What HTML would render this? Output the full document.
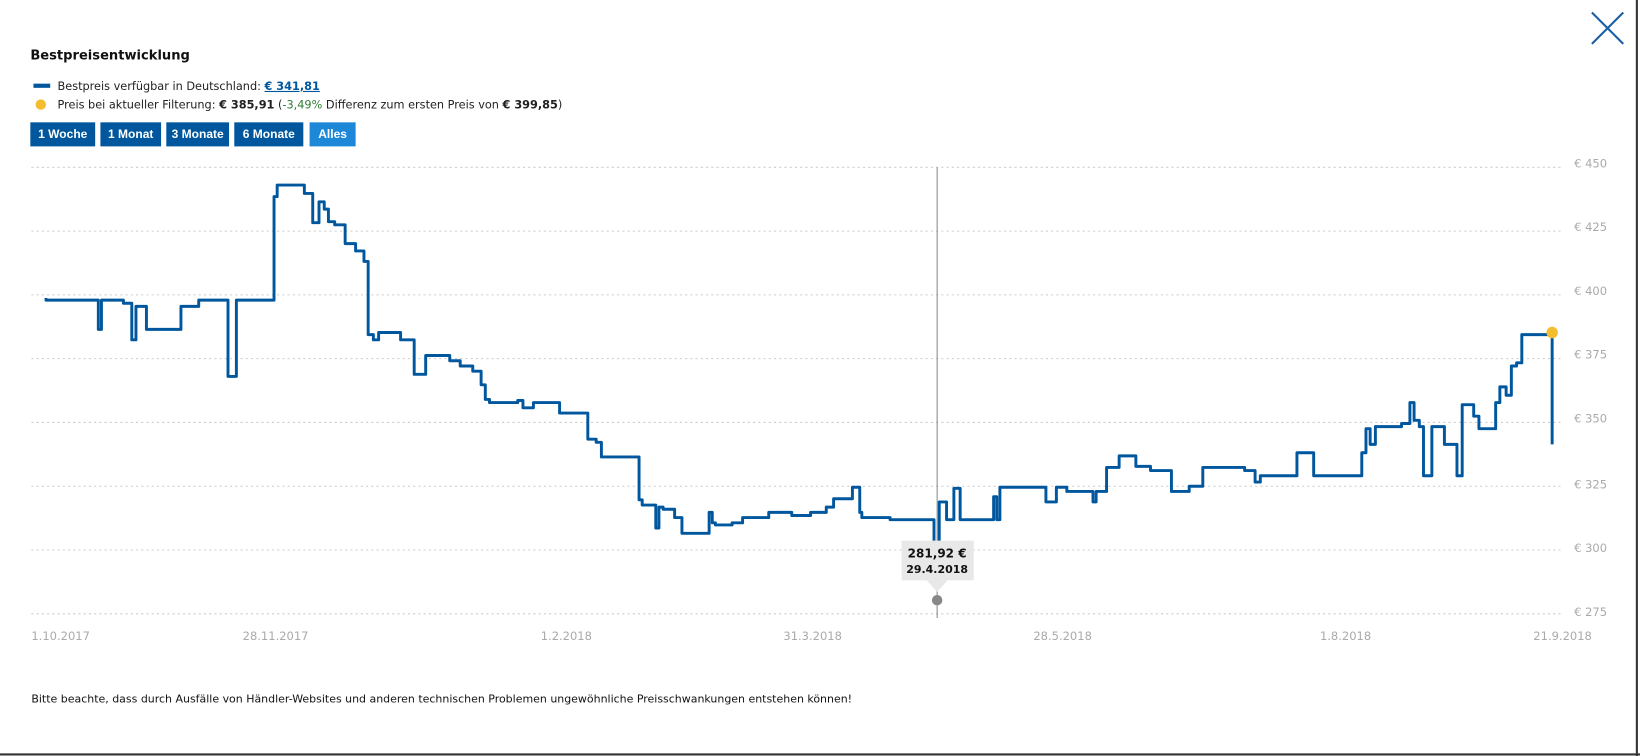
<!DOCTYPE html>
<html><head><meta charset="utf-8"><style>
html,body{margin:0;padding:0;background:#fff;width:1640px;height:756px;overflow:hidden}
svg{display:block}
text{font-family:"DejaVu Sans","Liberation Sans",sans-serif}
text.btn{font-family:"Liberation Sans",sans-serif;font-weight:bold;font-size:11.5px}
</style></head><body>
<svg width="1640" height="756" viewBox="0 0 1568 723" preserveAspectRatio="none">
<rect x="0" y="0" width="1568" height="723" fill="#fff"/>
<line x1="1565" y1="0" x2="1565" y2="723" stroke="#333" stroke-width="2"/>
<line x1="0" y1="721.5" x2="1568" y2="721.5" stroke="#333" stroke-width="2"/>
<path d="M1522 12 L1552 42 M1552 12 L1522 42" stroke="#1a5fa6" stroke-width="2" fill="none"/>
<text x="29" y="57" font-size="12.5" font-weight="bold" fill="#111">Bestpreisentwicklung</text>
<rect x="32" y="80" width="16" height="4" fill="#00579e"/>
<text x="55" y="86" font-size="10.8" fill="#222">Bestpreis verfügbar in Deutschland: <tspan fill="#00579e" font-weight="bold" text-decoration="underline">€ 341,81</tspan></text>
<circle cx="39" cy="100" r="5" fill="#f4bc2f"/>
<text x="55" y="104" font-size="10.8" fill="#222">Preis bei aktueller Filterung: <tspan font-weight="bold">€ 385,91</tspan> (<tspan fill="#2e7d32">-3,49%</tspan> Differenz zum ersten Preis von <tspan font-weight="bold">€ 399,85</tspan>)</text>
<rect x="29" y="117" width="62" height="23" fill="#00579e"/><text class="btn" x="60" y="132" text-anchor="middle" fill="#fff">1 Woche</text>
<rect x="96" y="117" width="58" height="23" fill="#00579e"/><text class="btn" x="125" y="132" text-anchor="middle" fill="#fff">1 Monat</text>
<rect x="159" y="117" width="60" height="23" fill="#00579e"/><text class="btn" x="189" y="132" text-anchor="middle" fill="#fff">3 Monate</text>
<rect x="224" y="117" width="66" height="23" fill="#00579e"/><text class="btn" x="257" y="132" text-anchor="middle" fill="#fff">6 Monate</text>
<rect x="296" y="117" width="44" height="23" fill="#1e88d8"/><text class="btn" x="318" y="132" text-anchor="middle" fill="#fff">Alles</text>
<g stroke="#ccc" stroke-dasharray="2,3" stroke-width="1">
<line x1="30" y1="160" x2="1493" y2="160"/><line x1="30" y1="221" x2="1493" y2="221"/>
<line x1="30" y1="282" x2="1493" y2="282"/><line x1="30" y1="343" x2="1493" y2="343"/>
<line x1="30" y1="404" x2="1493" y2="404"/><line x1="30" y1="465" x2="1493" y2="465"/>
<line x1="30" y1="526" x2="1493" y2="526"/><line x1="30" y1="587" x2="1493" y2="587"/>
</g>
<g font-size="11" fill="#aaa">
<text x="1505" y="160">€ 450</text><text x="1505" y="221">€ 425</text><text x="1505" y="282">€ 400</text>
<text x="1505" y="343">€ 375</text><text x="1505" y="404">€ 350</text><text x="1505" y="467">€ 325</text>
<text x="1505" y="528">€ 300</text><text x="1505" y="589">€ 275</text>
<text x="30" y="612">1.10.2017</text><text x="232" y="612">28.11.2017</text><text x="517" y="612">1.2.2018</text>
<text x="749" y="612">31.3.2018</text><text x="988" y="612">28.5.2018</text><text x="1262" y="612">1.8.2018</text><text x="1466" y="612">21.9.2018</text>
</g>
<line x1="896" y1="160" x2="896" y2="591" stroke="#888" stroke-width="1"/>
<path fill="none" stroke="#00579e" stroke-width="2.8" stroke-linejoin="round" d="M44 285 V287 H94 V315 H97 V287 H118 V290 H126 V325 H130 V293 H140 V315 H173 V293 H190 V287 H218 V360 H226 V287 H262 V188 H265 V177 H291 V185 H299 V213 H305 V193 H310 V200 H314 V212 H320 V215 H330 V233 H340 V240 H348 V250 H352 V320 H357 V325 H362 V318 H383 V325 H396 V358 H407 V340 H430 V345 H440 V350 H452 V355 H460 V368 H464 V382 H468 V385 H495 V383 H500 V390 H510 V385 H535 V395 H562 V420 H570 V423 H575 V437 H611 V478 H614 V483 H627 V505 H630 V485 H634 V487 H645 V495 H652 V510 H678 V490 H681 V500 H684 V502 H700 V500 H710 V495 H735 V490 H757 V493 H775 V490 H790 V485 H797 V477 H815 V466 H822 V490 H824 V495 H851 V497 H893 V520 M898 520 V480 H905 V497 H912 V467 H918 V497 H950 V475 H953 V497 H956 V466 H1000 V480 H1010 V466 H1020 V470 H1045 V480 H1048 V470 H1058 V447 H1070 V436 H1086 V446 H1100 V450 H1120 V470 H1137 V465 H1150 V447 H1190 V450 H1200 V461 H1205 V455 H1240 V433 H1256 V455 H1302 V433 H1306 V410 H1310 V425 H1315 V408 H1340 V405 H1348 V385 H1352 V402 H1357 V408 H1361 V455 H1369 V408 H1381 V425 H1393 V455 H1398 V387 H1409 V398 H1414 V410 H1430 V385 H1434 V370 H1440 V378 H1445 V350 H1450 V347 H1455 V320 H1482 V318 H1484 V425"/>
<circle cx="1484" cy="318" r="5.5" fill="#f4bc2f"/>
<rect x="862" y="517" width="69" height="38" fill="#e8e8e8"/>
<path d="M886 555 L896 566 L906 555 Z" fill="#e8e8e8"/>
<text x="896" y="533" font-size="11.5" font-weight="bold" fill="#111" text-anchor="middle">281,92 €</text>
<text x="896" y="548" font-size="10.5" font-weight="bold" fill="#111" text-anchor="middle">29.4.2018</text>
<circle cx="896" cy="574" r="5" fill="#888"/>
<text x="30" y="672" font-size="10.5" fill="#111">Bitte beachte, dass durch Ausfälle von Händler-Websites und anderen technischen Problemen ungewöhnliche Preisschwankungen entstehen können!</text>
</svg>
</body></html>
